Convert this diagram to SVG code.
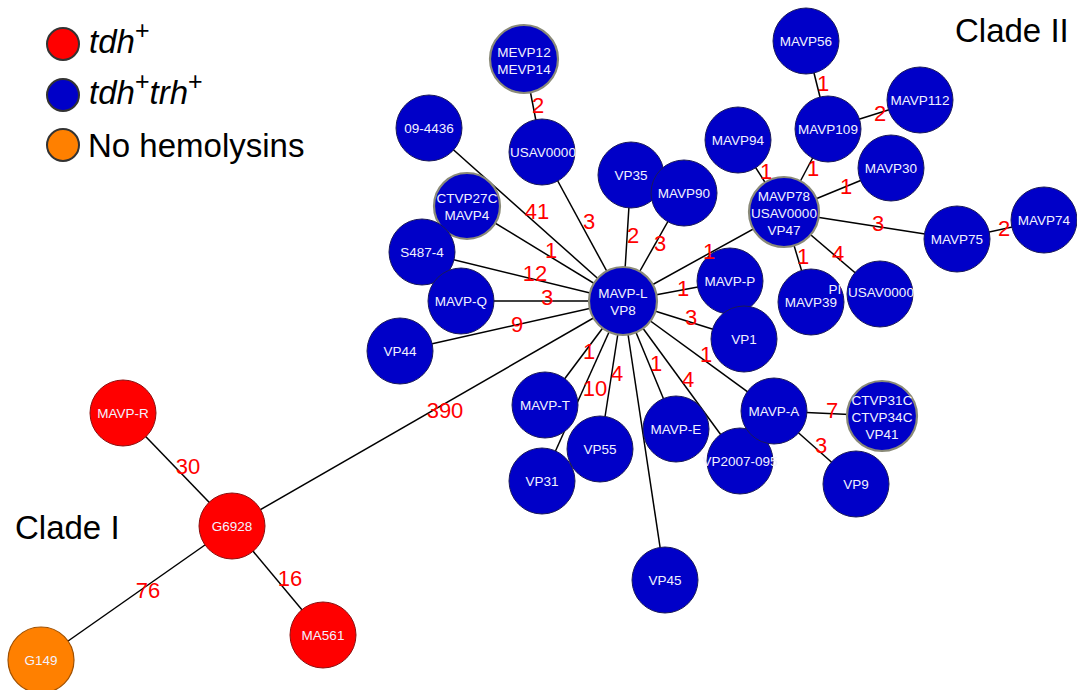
<svg xmlns="http://www.w3.org/2000/svg" width="1077" height="690" viewBox="0 0 1077 690">
<style>
.e{stroke:#000;stroke-width:1.5;fill:none}
.n{fill:#0000C8;stroke:#1a1a5a;stroke-width:1}
.m{fill:#0000C8;stroke:#8a8a78;stroke-width:2.2}
.r{fill:#FF0000;stroke:#8a1010;stroke-width:1}
.o{fill:#FF8000;stroke:#a05000;stroke-width:1.2}
.t{font-family:"Liberation Sans",Arial,sans-serif;font-size:13.5px;fill:#F2F2FF;text-anchor:middle}
.l{font-family:"Liberation Sans",Arial,sans-serif;font-size:22px;fill:#FF0000;text-anchor:middle}
.big{font-family:"Liberation Sans",Arial,sans-serif;font-size:33px;fill:#000}
.lg{stroke:#333;stroke-width:2}
</style>
<rect width="1077" height="690" fill="#fff"/>
<g id="legend">
<circle class="lg" cx="63" cy="44" r="16" fill="#FF0000"/>
<circle class="lg" cx="63" cy="95" r="16" fill="#0000C8"/>
<circle class="lg" cx="63" cy="145" r="16" fill="#FF8000"/>
<text class="big" x="89" y="53" font-style="italic">tdh<tspan font-size="25" font-style="normal" dy="-14">+</tspan></text>
<text class="big" x="89" y="104" font-style="italic">tdh<tspan font-size="25" font-style="normal" dy="-14">+</tspan><tspan dy="14">trh</tspan><tspan font-size="25" font-style="normal" dy="-14">+</tspan></text>
<text class="big" x="88" y="157">No hemolysins</text>
</g>
<text class="big" x="955" y="42">Clade II</text>
<text class="big" x="15" y="539">Clade I</text>
<g id="connectors">
<line class="e" x1="524" y1="59" x2="542" y2="152"/>
<line class="e" x1="542" y1="152" x2="623" y2="301"/>
<line class="e" x1="429" y1="128" x2="623" y2="301"/>
<line class="e" x1="467" y1="206" x2="623" y2="301"/>
<line class="e" x1="422" y1="252" x2="623" y2="301"/>
<line class="e" x1="461" y1="301" x2="623" y2="301"/>
<line class="e" x1="400" y1="351" x2="623" y2="301"/>
<line class="e" x1="631" y1="175" x2="623" y2="301"/>
<line class="e" x1="684" y1="193" x2="623" y2="301"/>
<line class="e" x1="784" y1="212" x2="623" y2="301"/>
<line class="e" x1="730" y1="281" x2="623" y2="301"/>
<line class="e" x1="744" y1="339" x2="623" y2="301"/>
<line class="e" x1="545" y1="405" x2="623" y2="301"/>
<line class="e" x1="542" y1="481" x2="623" y2="301"/>
<line class="e" x1="600" y1="449" x2="623" y2="301"/>
<line class="e" x1="665" y1="580" x2="623" y2="301"/>
<line class="e" x1="676" y1="429" x2="623" y2="301"/>
<line class="e" x1="740" y1="461" x2="623" y2="301"/>
<line class="e" x1="774" y1="411" x2="623" y2="301"/>
<line class="e" x1="774" y1="411" x2="882" y2="416"/>
<line class="e" x1="774" y1="411" x2="856" y2="484"/>
<line class="e" x1="623" y1="301" x2="232" y2="526"/>
<line class="e" x1="232" y1="526" x2="123" y2="413"/>
<line class="e" x1="232" y1="526" x2="323" y2="635"/>
<line class="e" x1="232" y1="526" x2="41" y2="660"/>
<line class="e" x1="784" y1="212" x2="738" y2="140"/>
<line class="e" x1="784" y1="212" x2="828" y2="129"/>
<line class="e" x1="784" y1="212" x2="891" y2="168"/>
<line class="e" x1="784" y1="212" x2="957" y2="239"/>
<line class="e" x1="784" y1="212" x2="811" y2="302"/>
<line class="e" x1="784" y1="212" x2="880" y2="294"/>
<line class="e" x1="828" y1="129" x2="806" y2="41"/>
<line class="e" x1="828" y1="129" x2="920" y2="100"/>
<line class="e" x1="957" y1="239" x2="1044" y2="220"/>
</g>
<g id="n-MEVP12"><circle class="m" cx="524" cy="59" r="34"/><text class="t" x="524" y="57">MEVP12</text><text class="t" x="524" y="74">MEVP14</text></g>
<g id="n-09-4436"><circle class="n" cx="429" cy="128" r="33"/><text class="t" x="429" y="133">09-4436</text></g>
<g id="n-USAV0000a"><circle class="n" cx="542" cy="152" r="33"/><text class="t" x="543" y="157">USAV0000</text></g>
<g id="n-CTVP27C"><circle class="m" cx="467" cy="206" r="33"/><text class="t" x="467" y="203">CTVP27C</text><text class="t" x="467" y="220">MAVP4</text></g>
<g id="n-S487-4"><circle class="n" cx="422" cy="252" r="33"/><text class="t" x="422" y="257">S487-4</text></g>
<g id="n-MAVP-Q"><circle class="n" cx="461" cy="301" r="33"/><text class="t" x="461" y="306">MAVP-Q</text></g>
<g id="n-VP44"><circle class="n" cx="400" cy="351" r="33"/><text class="t" x="400" y="356">VP44</text></g>
<g id="n-VP35"><circle class="n" cx="631" cy="175" r="33"/><text class="t" x="631" y="180">VP35</text></g>
<g id="n-MAVP90"><circle class="n" cx="684" cy="193" r="33"/><text class="t" x="684" y="198">MAVP90</text></g>
<g id="n-MAVP94"><circle class="n" cx="738" cy="140" r="33"/><text class="t" x="738" y="145">MAVP94</text></g>
<g id="n-MAVP56"><circle class="n" cx="806" cy="41" r="33"/><text class="t" x="806" y="46">MAVP56</text></g>
<g id="n-MAVP109"><circle class="n" cx="828" cy="129" r="33"/><text class="t" x="828" y="134">MAVP109</text></g>
<g id="n-MAVP112"><circle class="n" cx="920" cy="100" r="33"/><text class="t" x="920" y="105">MAVP112</text></g>
<g id="n-MAVP30"><circle class="n" cx="891" cy="168" r="33"/><text class="t" x="891" y="173">MAVP30</text></g>
<g id="n-MAVP75"><circle class="n" cx="957" cy="239" r="33"/><text class="t" x="957" y="244">MAVP75</text></g>
<g id="n-MAVP74"><circle class="n" cx="1044" cy="220" r="33"/><text class="t" x="1044" y="225">MAVP74</text></g>
<g id="n-MAVP39"><circle class="n" cx="811" cy="302" r="33"/><text class="t" x="811" y="307">MAVP39</text></g>
<g id="n-USAV0000b"><circle class="n" cx="880" cy="294" r="33"/><text class="t" x="835" y="294">PI</text><text class="t" x="881" y="297">USAV0000</text></g>
<g id="n-MAVP78"><circle class="m" cx="784" cy="212" r="35"/><text class="t" x="784" y="201">MAVP78</text><text class="t" x="784" y="218">USAV0000</text><text class="t" x="784" y="235">VP47</text></g>
<g id="n-MAVP-P"><circle class="n" cx="730" cy="281" r="33"/><text class="t" x="730" y="286">MAVP-P</text></g>
<g id="n-VP1"><circle class="n" cx="744" cy="339" r="33"/><text class="t" x="744" y="344">VP1</text></g>
<g id="n-MAVP-L"><circle class="m" cx="623" cy="301" r="34"/><text class="t" x="623" y="298">MAVP-L</text><text class="t" x="623" y="315">VP8</text></g>
<g id="n-MAVP-T"><circle class="n" cx="545" cy="405" r="33"/><text class="t" x="545" y="410">MAVP-T</text></g>
<g id="n-VP31"><circle class="n" cx="542" cy="481" r="33"/><text class="t" x="542" y="486">VP31</text></g>
<g id="n-VP55"><circle class="n" cx="600" cy="449" r="33"/><text class="t" x="600" y="454">VP55</text></g>
<g id="n-VP45"><circle class="n" cx="665" cy="580" r="33"/><text class="t" x="665" y="585">VP45</text></g>
<g id="n-MAVP-E"><circle class="n" cx="676" cy="429" r="33"/><text class="t" x="676" y="434">MAVP-E</text></g>
<g id="n-VP2007-095"><circle class="n" cx="740" cy="461" r="33"/><text class="t" x="740" y="466">VP2007-095</text></g>
<g id="n-MAVP-A"><circle class="n" cx="774" cy="411" r="33"/><text class="t" x="774" y="416">MAVP-A</text></g>
<g id="n-CTVP31C"><circle class="m" cx="882" cy="416" r="35"/><text class="t" x="882" y="405">CTVP31C</text><text class="t" x="882" y="422">CTVP34C</text><text class="t" x="882" y="439">VP41</text></g>
<g id="n-VP9"><circle class="n" cx="856" cy="484" r="33"/><text class="t" x="856" y="489">VP9</text></g>
<g id="n-MAVP-R"><circle class="r" cx="123" cy="413" r="33"/><text class="t" x="123" y="418">MAVP-R</text></g>
<g id="n-G6928"><circle class="r" cx="232" cy="526" r="33"/><text class="t" x="232" y="531">G6928</text></g>
<g id="n-MA561"><circle class="r" cx="323" cy="635" r="33"/><text class="t" x="323" y="640">MA561</text></g>
<g id="n-G149"><circle class="o" cx="41" cy="660" r="33"/><text class="t" x="41" y="665">G149</text></g>
<g id="edge-labels">
<text class="l" x="538" y="113">2</text>
<text class="l" x="537" y="219">41</text>
<text class="l" x="589" y="229">3</text>
<text class="l" x="633" y="243">2</text>
<text class="l" x="660" y="251">3</text>
<text class="l" x="551" y="258">1</text>
<text class="l" x="535" y="281">12</text>
<text class="l" x="547" y="305">3</text>
<text class="l" x="517" y="332">9</text>
<text class="l" x="445" y="418">390</text>
<text class="l" x="589" y="359">1</text>
<text class="l" x="595" y="396">10</text>
<text class="l" x="617" y="381">4</text>
<text class="l" x="656" y="371">1</text>
<text class="l" x="688" y="387">4</text>
<text class="l" x="706" y="362">1</text>
<text class="l" x="683" y="296">1</text>
<text class="l" x="691" y="325">3</text>
<text class="l" x="709" y="259">1</text>
<text class="l" x="832" y="418">7</text>
<text class="l" x="821" y="453">3</text>
<text class="l" x="823" y="91">1</text>
<text class="l" x="880" y="121">2</text>
<text class="l" x="766" y="179">1</text>
<text class="l" x="813" y="176">1</text>
<text class="l" x="846" y="194">1</text>
<text class="l" x="878" y="231">3</text>
<text class="l" x="1004" y="236">2</text>
<text class="l" x="838" y="261">4</text>
<text class="l" x="803" y="264">1</text>
<text class="l" x="188" y="474">30</text>
<text class="l" x="290" y="586">16</text>
<text class="l" x="148" y="598">76</text>
</g>
</svg>
